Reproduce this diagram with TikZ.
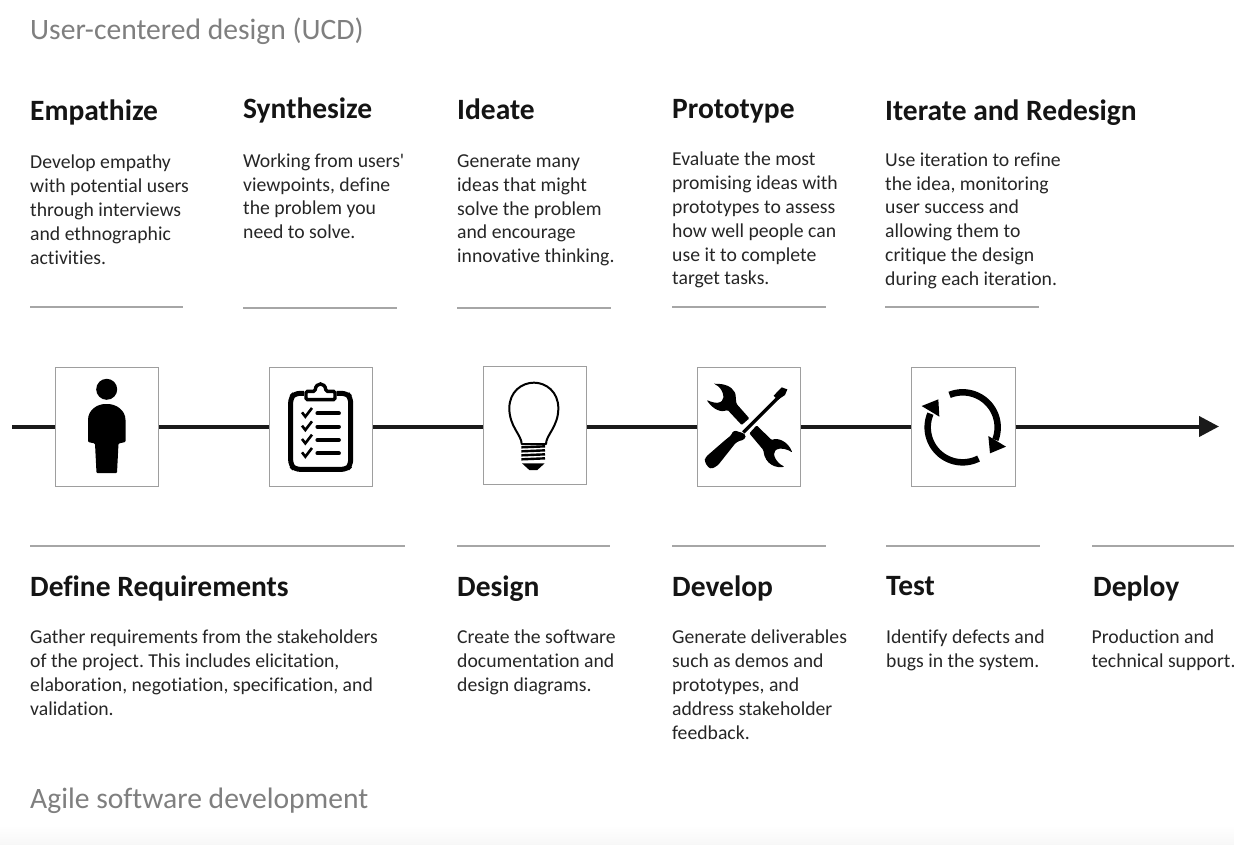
\documentclass[tikz,border=0pt]{standalone}
\usepackage{fontspec}
\setmainfont[Ligatures={TeXOff,NoCommon}]{Carlito}
\usetikzlibrary{arrows.meta}
\definecolor{ruleg}{HTML}{A6A6A6}
\definecolor{titleg}{HTML}{7F7F7F}
\definecolor{axisk}{HTML}{1A1A1A}
\tikzset{
  heading/.style={anchor=base west,inner sep=0,font=\fontsize{29.5}{32}\selectfont\bfseries,text=black!92},
  body/.style={anchor=north west,inner sep=0,align=left,font=\frenchspacing\fontsize{19.7}{23.8}\selectfont,text=black!85},
  sectiontitle/.style={anchor=base west,inner sep=0,font=\fontsize{29.6}{32}\selectfont,text=titleg},
  rulemark/.style={draw=ruleg,line width=2.2pt},
  iconbox/.style={draw=black!38,line width=1.2pt,fill=white,minimum width=103.5pt,minimum height=118.5pt,inner sep=0,anchor=north west},
  axis/.style={draw=axisk,line width=4pt},
  zoomed/.style={x=0.33333pt,y=-0.33333pt}
}
\begin{document}
\begin{tikzpicture}[x=1pt,y=-1pt]
\useasboundingbox (0,0) rectangle (1234,844);
\fill[white] (0,0) rectangle (1234,844);
\shade[top color=white,bottom color=black!3] (0,825) rectangle (1234,844);
% titles
\node[sectiontitle] (t1) at (30,39) {User-centered design (UCD)};
\node[sectiontitle] (t2) at (30,808.5) {Agile software development};
% top headings
\node[heading] (h1) at (30,120) {Empathize};
\node[heading] (h2) at (243,118.5) {Synthesize};
\node[heading] (h3) at (457,119.5) {Ideate};
\node[heading] (h4) at (672,118) {Prototype};
\node[heading] (h5) at (885,120) {Iterate and Redesign};
\node[body] (b1) at (30,155) {Develop empathy\\with potential users\\through interviews\\and ethnographic\\activities.};
\node[body] (b2) at (243,153.5) {Working from users'\\viewpoints, define\\the problem you\\need to solve.};
\node[body] (b3) at (457,154.5) {Generate many\\ideas that might\\solve the problem\\and encourage\\innovative thinking.};
\node[body] (b4) at (672,152) {Evaluate the most\\promising ideas with\\prototypes to assess\\how well people can\\use it to complete\\target tasks.};
\node[body] (b5) at (885,152.5) {Use iteration to refine\\the idea, monitoring\\user success and\\allowing them to\\critique the design\\during each iteration.};
% rules
\draw[rulemark] (30,307) -- (183,307);
\draw[rulemark] (243,308) -- (397,308);
\draw[rulemark] (457,308) -- (611,308);
\draw[rulemark] (672,307) -- (826,307);
\draw[rulemark] (885,307) -- (1039,307);
\draw[rulemark] (30,546) -- (405,546);
\draw[rulemark] (457,546) -- (610,546);
\draw[rulemark] (672,546) -- (826,546);
\draw[rulemark] (886,546) -- (1040,546);
\draw[rulemark] (1092,546) -- (1234,546);
% boxes and axis
\node[iconbox] (i1) at (54.5,367) {};
\node[iconbox] (i2) at (268.7,367) {};
\node[iconbox] (i3) at (482.7,365.7) {};
\node[iconbox] (i4) at (696.7,367) {};
\node[iconbox] (i5) at (911,367) {};
\coordinate (axstart) at (12,426.5);
\coordinate (axend) at (1219,426.5);
\draw[axis] (axstart) -- (axstart -| i1.west);
\draw[axis] (i1.east |- axstart) -- (i2.west |- axstart);
\draw[axis] (i2.east |- axstart) -- (i3.west |- axstart);
\draw[axis] (i3.east |- axstart) -- (i4.west |- axstart);
\draw[axis] (i4.east |- axstart) -- (i5.west |- axstart);
\draw[axis,-{Triangle[length=20pt,width=20pt]}] (i5.east |- axstart) -- (axend);
% person
\fill[black] (106.7,389.3) circle[radius=10.5];
\fill[black,rounded corners=1pt] (88,442) -- (88,421) .. controls (88,410) and (97,404) .. (106.5,404) .. controls (116,404) and (125.5,410) .. (125.5,421) -- (125.5,442) -- (118.5,443.5) -- (117,473) -- (96.5,473) -- (95,443.5) -- cycle;
% clipboard
\begin{scope}[shift={(0,350)},zoomed]
\draw[black,line width=5pt,rounded corners=5pt] (912,130) -- (885,130) -- (872,143) -- (872,345) -- (885,358) -- (1040,358) -- (1052,345) -- (1052,143) -- (1040,130) -- (1010,130);
\draw[black,line width=3.4pt,fill=white,rounded corners=1.5pt] (918,149) -- (918,124) -- (945,124) .. controls (948,96) and (975,96) .. (978,124) -- (1005,124) -- (1005,149) -- cycle;
\foreach \yy in {187,227,267,307}{
  \draw[black,line width=2.6pt] (906,\yy) -- (916,\yy+13) -- (936,\yy-13);
  \draw[black,line width=3.8pt,line cap=round] (952,\yy+3) -- (1017,\yy+3);
}
\end{scope}
% bulb
\begin{scope}[shift={(460,350)},zoomed]
\draw[black,line width=2pt,line join=round] (185,282) .. controls (185,255) and (148,230) .. (148,175) .. controls (148,125) and (185,98) .. (222,98) .. controls (258,98) and (295,125) .. (295,175) .. controls (295,230) and (258,255) .. (258,282) -- cycle;
\foreach \yy in {292,304,316,328}{
  \draw[black,line width=2.4pt] (184,\yy) -- (255,\yy-3);
}
\fill[black] (186,340) -- (254,340) -- (232,360) -- (208,360) -- cycle;
\end{scope}
% tools
\begin{scope}[shift={(460,350)},zoomed]
\fill[black,rounded corners=1pt] (763,102) .. controls (790,100) and (815,108) .. (826,130) .. controls (828,145) and (828,155) .. (830,162) -- (868,205) -- (845,225) -- (803,180) .. controls (785,188) and (760,180) .. (740,150) .. controls (752,155) and (770,162) .. (783,155) .. controls (795,145) and (790,115) .. cycle;
\fill[black,rounded corners=1pt] (890,226) -- (935,270) .. controls (955,262) and (985,275) .. (997,308) .. controls (985,298) and (960,292) .. (948,300) .. controls (935,312) and (950,340) .. (974,350) .. controls (950,355) and (915,345) .. (910,300) -- (868,250) -- cycle;
\draw[white,line width=5pt] (975,122) -- (845,252);
\draw[black,line width=3.4pt] (975,122) -- (850,247);
\fill[black] (941,137) -- (965,112) -- (982,118) -- (975,135) -- (953,150) -- cycle;
\fill[black,rounded corners=3pt] (820,240) -- (857,252) -- (856,268) -- (830,275) -- (772,348) -- (750,358) -- (733,335) -- (736,322) -- (798,268) -- (815,255) -- cycle;
\end{scope}
% cycle
\begin{scope}[shift={(880,350)},zoomed]
\draw[black,line width=6.5pt] plot[domain=-112:21,samples=40] ({248+105*cos(\x)},{232+105*sin(\x)});
\draw[black,line width=6.5pt] plot[domain=63:203,samples=40] ({248+105*cos(\x)},{232+105*sin(\x)});
\fill[black] (325,258) -- (378,290) -- (330,310) -- cycle;
\fill[black] (125,168) -- (175,148) -- (178,200) -- cycle;
\end{scope}
% bottom headings
\node[heading] (h6) at (30,596) {Define Requirements};
\node[heading] (h7) at (457,596) {Design};
\node[heading] (h8) at (672,596) {Develop};
\node[heading] (h9) at (886,595) {Test};
\node[heading] (h10) at (1093,596) {Deploy};
\node[body] (b6) at (30,630) {Gather requirements from the stakeholders\\of the project. This includes elicitation,\\elaboration, negotiation, specification, and\\validation.};
\node[body] (b7) at (457,630) {Create the software\\documentation and\\design diagrams.};
\node[body] (b8) at (672,630) {Generate deliverables\\such as demos and\\prototypes, and\\address stakeholder\\feedback.};
\node[body] (b9) at (886,629.5) {Identify defects and\\bugs in the system.};
\node[body] (b10) at (1091.5,630) {Production and\\technical support.};
\end{tikzpicture}
\end{document}
